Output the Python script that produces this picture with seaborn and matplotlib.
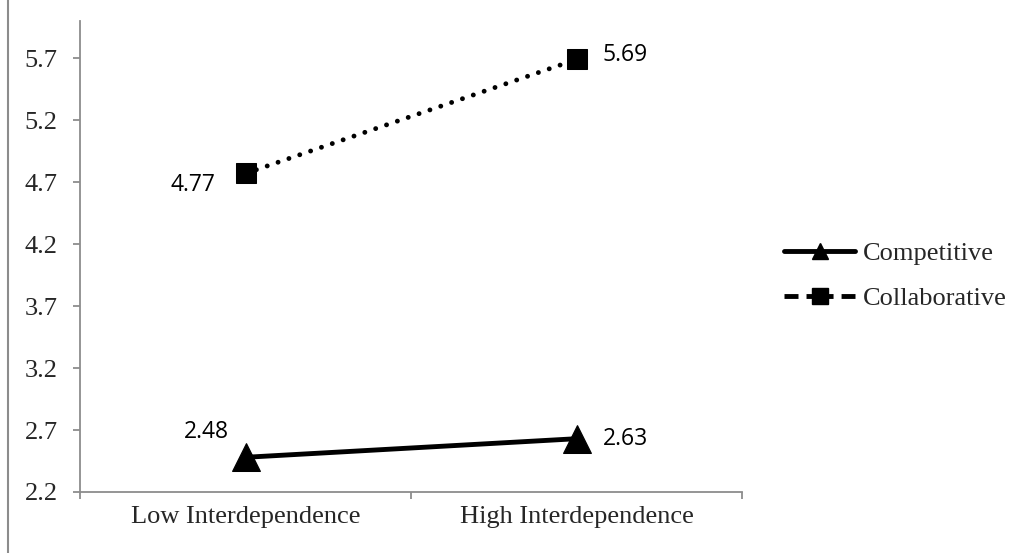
import numpy as np
import pandas as pd
import seaborn as sns
import matplotlib.pyplot as plt
from matplotlib.lines import Line2D

# data
levels = ['Low Interdependence', 'High Interdependence']
groups = ['Competitive', 'Collaborative']
competitive = [2.48, 2.63]
collaborative = [4.77, 5.69]
yticks = [2.2, 2.7, 3.2, 3.7, 4.2, 4.7, 5.2, 5.7]

df = pd.DataFrame({
    'pos': list(range(len(levels))) * 2,
    'group': [groups[0]] * 2 + [groups[1]] * 2,
    'score': competitive + collaborative,
})

sns.set_style('white')
plt.rcParams['font.family'] = ['Liberation Serif', 'DejaVu Serif']

fig = plt.figure(figsize=(10.22, 5.53), dpi=100)
ax = fig.add_axes([80 / 1022, 61 / 553, 662 / 1022, 471 / 553])

styles = {
    'Competitive': dict(marker='^', markersize=20, linestyle='-'),
    'Collaborative': dict(marker='s', markersize=15, linestyle=(0, (0.01, 2.35)),
                          dash_capstyle='round'),
}
for g in groups:
    sub = df[df['group'] == g]
    sns.lineplot(data=sub, x='pos', y='score', color='black', lw=3.5,
                 markeredgecolor='black', ax=ax, **styles[g])

# value labels (offsets in points)
offsets = {
    ('Competitive', 0): (-12, 18, 'right'),
    ('Competitive', 1): (19, 0, 'left'),
    ('Collaborative', 0): (-22, -8, 'right'),
    ('Collaborative', 1): (19, 3, 'left'),
}
for _, row in df.iterrows():
    dx, dy, ha = offsets[(row['group'], row['pos'])]
    ax.annotate(f"{row['score']:.2f}", (row['pos'], row['score']),
                xytext=(dx, dy), textcoords='offset points', ha=ha, va='center',
                fontsize=16.5, family='Open Sans', color='black')

ax.set_xlim(-0.5, len(levels) - 0.5)
ax.set_ylim(2.2, 6.0)
ax.set_yticks(yticks)
ax.set_yticklabels([f'{t:.1f}' for t in yticks])
ax.set_xticks(range(len(levels)))
ax.set_xticklabels(levels)
ax.set_xticks(np.arange(len(levels) + 1) - 0.5, minor=True)
ax.set_xlabel('')
ax.set_ylabel('')

gray = '#8c8c8c'
for s in ['top', 'right']:
    ax.spines[s].set_visible(False)
for s in ['left', 'bottom']:
    ax.spines[s].set_color(gray)
    ax.spines[s].set_linewidth(1.3)
ax.tick_params(axis='y', which='major', direction='out', length=5, width=1.3,
               color=gray, labelsize=19, pad=11, left=True)
ax.tick_params(axis='x', which='major', length=0, labelsize=19, pad=10)
ax.tick_params(axis='x', which='minor', direction='out', length=5, width=1.3,
               color=gray, bottom=True)

handles = [
    Line2D([], [], color='black', lw=3.5, marker='^', markersize=12,
           solid_capstyle='round'),
    Line2D([], [], color='black', lw=3.5, marker='s', markersize=12,
           linestyle=(0, (2.88, 1.65, 5.56, 1.65, 2.88, 10)), dash_capstyle='butt'),
]
fig.legend(handles, groups, loc='center left', bbox_to_anchor=(784 / 1022, 1 - 276 / 553),
           frameon=False, fontsize=19, handlelength=2.7, handletextpad=0.3,
           labelspacing=0.83, borderpad=0, borderaxespad=0, numpoints=1)

# left border of the chart area
fig.add_artist(Line2D([8 / 1022, 8 / 1022], [0, 1], color=gray, lw=1.5,
                      transform=fig.transFigure))

fig.savefig('out.png', dpi=100)
